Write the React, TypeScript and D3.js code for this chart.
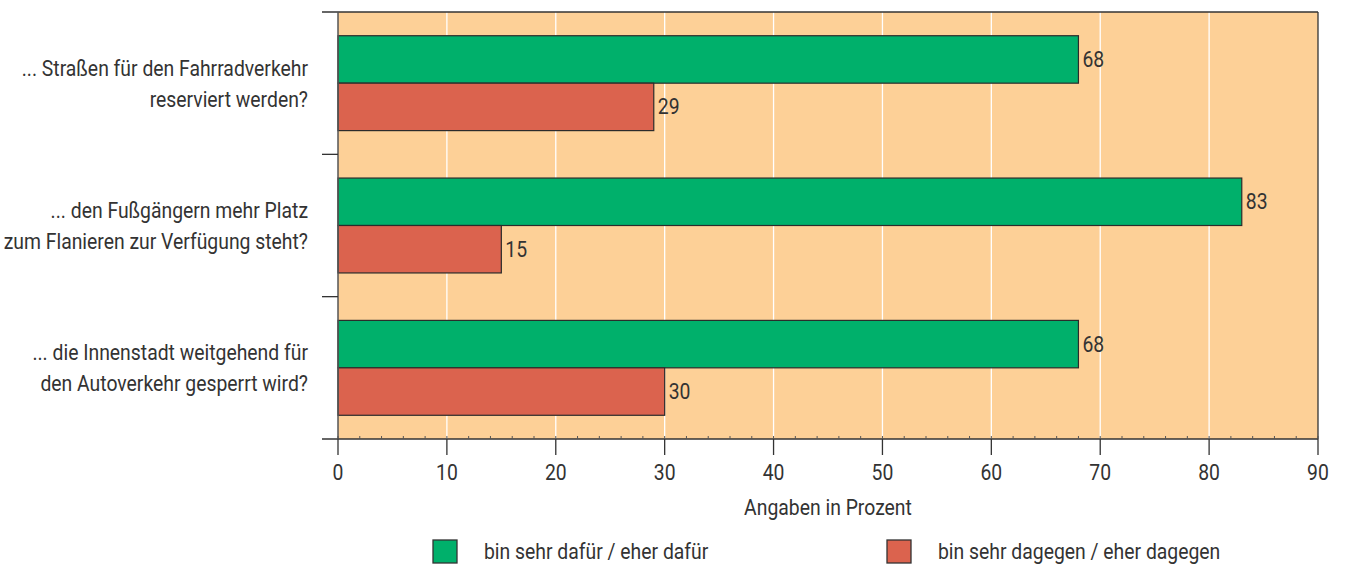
import React from "react";
import * as d3 from "d3";

const categories: string[][] = [
  ["... Straßen für den Fahrradverkehr", "reserviert werden?"],
  ["... den Fußgängern mehr Platz", "zum Flanieren zur Verfügung steht?"],
  ["... die Innenstadt weitgehend für", "den Autoverkehr gesperrt wird?"],
];
const seriesNames = ["bin sehr dafür / eher dafür", "bin sehr dagegen / eher dagegen"];
const dafuer = [68, 83, 68];
const dagegen = [29, 15, 30];
const xTicks = [0, 10, 20, 30, 40, 50, 60, 70, 80, 90];
const minorTicks = d3.range(0, 91, 2);
const axisTitle = "Angaben in Prozent";

const W = 1346;
const H = 565;
const left = 338;
const right = 1318;
const top = 12;
const bottom = 439;
const FONT = "Roboto, 'DejaVu Sans', sans-serif";
const TXT = "#333";
const BG = "#FDD097";
const GREEN = "#00B06B";
const RED = "#DB634E";
const SX = 0.88;
const FS = 22;

function T(props: { x: number; y: number; anchor?: "start" | "middle" | "end"; children: React.ReactNode }) {
  return (
    <g transform={`translate(${props.x},${props.y}) scale(${SX},1)`}>
      <text x={0} y={0} textAnchor={props.anchor || "start"} dominantBaseline="central" fontSize={FS} fill={TXT} fontFamily={FONT}>
        {props.children}
      </text>
    </g>
  );
}

export default function App() {
  const x = d3.scaleLinear().domain([0, 90]).range([left, right]);
  const y = d3.scaleBand<number>().domain([0, 1, 2]).range([top, bottom]).paddingInner(0).paddingOuter(0);
  const inner = d3.scaleBand<number>().domain([0, 1]).range([0, y.bandwidth()]).paddingOuter(0.5).paddingInner(0);
  const series = [dafuer, dagegen];
  const colors = [GREEN, RED];

  return (
    <svg width={W} height={H} style={{ position: "absolute", left: 0, top: 0 }} fontFamily={FONT}>
      <rect x={left} y={top} width={right - left} height={bottom - top} fill={BG} />
      {xTicks.slice(1, -1).map((t) => (
        <line key={t} x1={x(t)} x2={x(t)} y1={top} y2={bottom} stroke="#fff" strokeWidth={1.3} />
      ))}
      {series.map((vals, si) =>
        vals.map((v, i) => {
          const by = (y(i) as number) + (inner(si) as number);
          const bh = inner.bandwidth();
          return (
            <g key={`${si}-${i}`}>
              <rect x={x(0)} y={by} width={x(v) - x(0)} height={bh} fill={colors[si]} stroke="#2b2b2b" strokeWidth={1.2} />
              <T x={x(v) + 4} y={by + bh / 2}>{v}</T>
            </g>
          );
        })
      )}
      <line x1={322} x2={right} y1={top} y2={top} stroke="#333" strokeWidth={1.3} />
      <line x1={right} x2={right} y1={top} y2={bottom} stroke="#333" strokeWidth={1.3} />
      <line x1={left} x2={left} y1={top} y2={bottom} stroke="#555" strokeWidth={1.5} />
      <line x1={322} x2={right} y1={bottom} y2={bottom} stroke="#333" strokeWidth={1.3} />
      {[1, 2].map((i) => (
        <line key={i} x1={322} x2={left} y1={y(i) as number} y2={y(i) as number} stroke="#333" strokeWidth={1.3} />
      ))}
      {minorTicks.map((t) => (
        <line key={t} x1={x(t)} x2={x(t)} y1={bottom} y2={bottom - 3} stroke="#555" strokeWidth={1} />
      ))}
      {xTicks.map((t) => (
        <g key={t}>
          <line x1={x(t)} x2={x(t)} y1={bottom} y2={bottom + 16} stroke="#333" strokeWidth={1.3} />
          <T x={x(t)} y={473} anchor="middle">{t}</T>
        </g>
      ))}
      <T x={(left + right) / 2} y={508} anchor="middle">{axisTitle}</T>
      {categories.map((lines, i) => {
        const cy = (y(i) as number) + y.bandwidth() / 2;
        return (
          <g key={i}>
            {lines.map((l, j) => (
              <T key={j} x={308} y={cy + 0.5 + (j - 0.5) * 31} anchor="end">{l}</T>
            ))}
          </g>
        );
      })}
      {seriesNames.map((n, i) => {
        const lx = [433, 887][i];
        return (
          <g key={n}>
            <rect x={lx} y={540} width={24} height={23} fill={colors[i]} stroke="#333" strokeWidth={1.3} />
            <T x={lx + 51} y={551.5}>{n}</T>
          </g>
        );
      })}
    </svg>
  );
}
